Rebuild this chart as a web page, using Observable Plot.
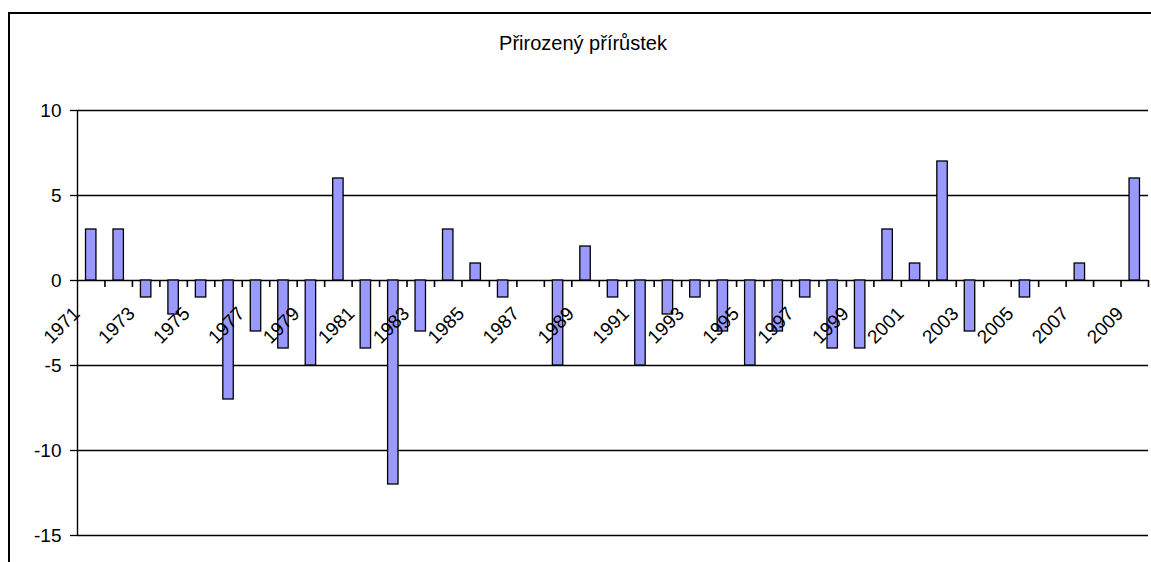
<!DOCTYPE html>
<html>
<head>
<meta charset="utf-8">
<script src="https://cdn.jsdelivr.net/npm/d3@7"></script>
<script src="https://cdn.jsdelivr.net/npm/@observablehq/plot@0.6"></script>
<style>
  html, body { margin: 0; padding: 0; background: #fff; }
  #wrap { position: relative; width: 1151px; height: 562px; overflow: hidden; }
  #frame { position: absolute; left: 8px; top: 12px; width: 1200px; height: 600px;
           border-left: 2px solid #000; border-top: 2px solid #000; box-sizing: border-box; }
  #title { position: absolute; left: 0; width: 1166px; top: 31px; text-align: center;
           font-family: "Liberation Sans", Arial, sans-serif; font-size: 20px; line-height: 24px; color: #000; }
  #chart { position: absolute; left: 0; top: 0; }
</style>
</head>
<body>
<div id="wrap">
  <div id="frame"></div>
  <div id="title">Přirozený přírůstek</div>
  <div id="chart"></div>
</div>
<script>
const years = d3.range(1971, 2010);
const values = [3, 3, -1, -2, -1, -7, -3, -4, -5, 6,
                -4, -12, -3, 3, 1, -1, 0, -5, 2, -1,
                -5, -2, -1, -3, -5, -3, -1, -4, -4, 3,
                1, 7, -3, 0, -1, 0, 1, 0, 6];
const yTicks = [-15, -10, -5, 0, 5, 10];
const labelYears = years.filter((d, i) => i % 2 === 0);

const data = years.map((year, i) => ({year, value: values[i]}));
// category boundaries (each year occupies [year, year + 1))
const boundaries = d3.range(years[0], years[years.length - 1] + 2);

const W = 1151, H = 562;
const mL = 77, mR = 3, mT = 110, mB = 27;
const yDomain = [-15, 10];
const step = (W - mL - mR) / years.length;
const FS = 19;
const barInset = step * 0.31;
// pixel position of the zero line, used to lift the category tick marks onto it
const zeroPx = mT + (yDomain[1] - 0) / (yDomain[1] - yDomain[0]) * (H - mT - mB);
const axisShift = zeroPx - (H - mB);

const chart = Plot.plot({
  width: W,
  height: H,
  marginLeft: mL,
  marginRight: mR,
  marginTop: mT,
  marginBottom: mB,
  style: {fontFamily: "'Liberation Sans', Arial, sans-serif", fontSize: FS + "px", color: "#000", background: "transparent"},
  x: {type: "linear", domain: [boundaries[0], boundaries[boundaries.length - 1]]},
  y: {domain: yDomain},
  marks: [
    Plot.ruleY(yTicks, {stroke: "#000", strokeWidth: 1.3}),
    Plot.axisY({ticks: yTicks, tickSize: 7, tickPadding: 9, tickFormat: d => String(d), stroke: "#000", strokeWidth: 1.3, fontSize: FS, label: null}),
    Plot.rectY(data, {x1: "year", x2: d => d.year + 1, y: "value", insetLeft: barInset, insetRight: barInset, fill: "#9999FF", stroke: "#000", strokeWidth: 1.3}),
    Plot.ruleX([boundaries[0]], {stroke: "#000", strokeWidth: 1.4}),
    Plot.axisX({anchor: "bottom", ticks: boundaries.slice(1), tickSize: 7, tickFormat: () => "", dy: axisShift, stroke: "#000", strokeWidth: 1.6, label: null}),
    Plot.text(labelYears, {x: d => d + 0.5, y: 0, text: d => String(d), rotate: -45, textAnchor: "end", lineAnchor: "middle", dx: -14.5, dy: 30, fill: "#000", fontSize: FS})
  ]
});
document.getElementById("chart").appendChild(chart);
</script>
</body>
</html>
